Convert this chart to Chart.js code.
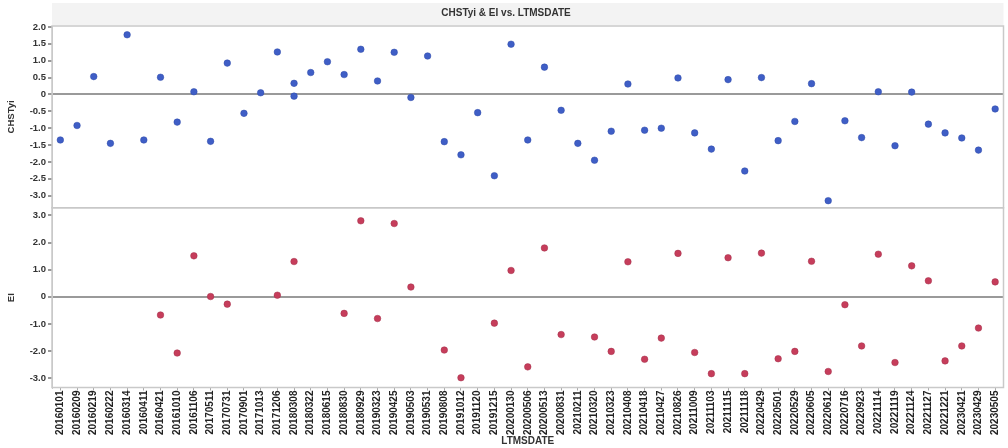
<!DOCTYPE html>
<html>
<head>
<meta charset="utf-8">
<script src="https://cdn.jsdelivr.net/npm/chart.js@4/dist/chart.umd.min.js"></script>
<style>
  html, body { margin: 0; padding: 0; background: #fff; }
  #wrap { width: 1008px; height: 448px; }
</style>
</head>
<body>
<div id="wrap"><canvas id="chart"></canvas></div>
<script>
const dates = [
  '20160101', '20160209', '20160219', '20160222', '20160314', '20160411', '20160421', '20161010',
  '20161106', '20170511', '20170731', '20170901', '20171013', '20171206', '20180308', '20180322',
  '20180615', '20180830', '20180929', '20190323', '20190425', '20190503', '20190531', '20190808',
  '20191012', '20191120', '20191215', '20200130', '20200506', '20200513', '20200831', '20210211',
  '20210320', '20210323', '20210408', '20210418', '20210427', '20210826', '20211009', '20211103',
  '20211115', '20211118', '20220429', '20220501', '20220529', '20220605', '20220612', '20220716',
  '20220923', '20221114', '20221119', '20221124', '20221127', '20221221', '20230421', '20230429',
  '20230505'
];

const chstyi = [
  -1.35, -0.92, 0.53, -1.45, 1.77, -1.35, 0.51, -0.82,
  0.08, -1.39, 0.93, -0.56, 0.05, 1.26, 0.33, 0.65,
  0.97, 0.59, 1.34, 0.40, 1.25, -0.09, 1.14, -1.40,
  -1.79, -0.54, -2.41, 1.49, -1.35, 0.81, -0.47, -1.45,
  -1.95, -1.09, 0.31, -1.06, -1.00, 0.49, -1.14, -1.62,
  0.44, -2.27, 0.50, -1.37, -0.80, 0.32, -3.15, -0.78,
  -1.28, 0.08, -1.52, 0.07, -0.88, -1.14, -1.29, -1.65,
  -0.43
];

// second CHSTyi reading on the same date
const repeatDates = ['20180308'];
const repeatChstyi = [-0.05];

const ei = [
  null, null, null, null, null, null, -0.67, -2.07,
  1.51, 0.01, -0.27, null, null, 0.06, 1.30, null,
  null, -0.61, 2.80, -0.80, 2.70, 0.36, null, -1.96,
  -2.98, null, -0.97, 0.97, -2.58, 1.80, -1.39, null,
  -1.48, -2.01, 1.29, -2.30, -1.52, 1.60, -2.05, -2.83,
  1.44, -2.83, 1.61, -2.28, -2.01, 1.31, -2.75, -0.29,
  -1.81, 1.57, -2.42, 1.14, 0.59, -2.36, -1.81, -1.15,
  0.55
];

const chstyiTicks = [2, 1.5, 1, 0.5, 0, -0.5, -1, -1.5, -2, -2.5, -3];
const eiTicks = [3, 2, 1, 0, -1, -2, -3];

const blue = '#3f5ec6';
const red = '#c63d5b';
const font = 'Liberation Sans, Arial, sans-serif';

const fmt = v => v === 0 ? '0' : v.toFixed(1);
const zeroLine = c => c.tick.value === 0 ? '#9a9a9a' : 'rgba(0,0,0,0)';

const panelFrame = {
  id: 'panelFrame',
  beforeDraw(chart) {
    const { ctx, chartArea } = chart;
    ctx.save();
    ctx.fillStyle = '#f3f3f3';
    ctx.fillRect(chartArea.left, 3, chartArea.right - chartArea.left, chartArea.top - 4);
    ctx.restore();
  },
  beforeDatasetsDraw(chart) {
    const { ctx, chartArea } = chart;
    ctx.save();
    ctx.strokeStyle = '#c9c9c9';
    ctx.lineWidth = 1.5;
    ['yEI', 'yCH'].forEach(id => {
      const s = chart.scales[id];
      ctx.strokeRect(chartArea.left, s.top, chartArea.right - chartArea.left, s.bottom - s.top);
    });
    ctx.restore();
  }
};

const tickFont = { family: font, size: 9.5, weight: 'bold' };

const ctx = document.getElementById('chart');

new Chart(ctx, {
  type: 'line',
  data: {
    labels: dates,
    datasets: [
      {
        label: 'CHSTyi',
        data: chstyi,
        yAxisID: 'yCH',
        showLine: false,
        pointRadius: 3.3,
        pointBackgroundColor: blue,
        pointBorderColor: '#2e4aa8',
        pointBorderWidth: 0.5
      },
      {
        label: 'CHSTyi',
        data: repeatDates.map((d, i) => ({ x: d, y: repeatChstyi[i] })),
        yAxisID: 'yCH',
        showLine: false,
        pointRadius: 3.3,
        pointBackgroundColor: blue,
        pointBorderColor: '#2e4aa8',
        pointBorderWidth: 0.5
      },
      {
        label: 'EI',
        data: ei,
        yAxisID: 'yEI',
        showLine: false,
        pointRadius: 3.3,
        pointBackgroundColor: red,
        pointBorderColor: '#a3304a',
        pointBorderWidth: 0.5
      }
    ]
  },
  options: {
    responsive: true,
    maintainAspectRatio: false,
    animation: false,
    layout: { padding: { left: 6, right: 2, top: 0, bottom: 1 } },
    plugins: {
      legend: { display: false },
      tooltip: { enabled: false },
      title: {
        display: true,
        text: 'CHSTyi & EI vs. LTMSDATE',
        color: '#333',
        font: { family: font, size: 10, weight: 'bold' },
        padding: { top: 7, bottom: 7 }
      }
    },
    scales: {
      x: {
        type: 'category',
        offset: true,
        grid: { drawOnChartArea: false, tickLength: 3, color: '#aaa' },
        border: { color: '#c9c9c9' },
        ticks: {
          autoSkip: false,
          minRotation: 90,
          maxRotation: 90,
          padding: 0,
          color: '#222',
          font: { family: font, size: 10, weight: 'bold' }
        },
        title: {
          display: true,
          text: 'LTMSDATE',
          color: '#333',
          font: { family: font, size: 10, weight: 'bold' },
          padding: { top: 0, bottom: 0 }
        }
      },
      yEI: {
        type: 'linear',
        position: 'left',
        stack: 'panels',
        stackWeight: 177,
        min: -3.34,
        max: 3.28,
        afterBuildTicks: s => { s.ticks = eiTicks.map(v => ({ value: v })); },
        afterFit: s => { s.width = 46; },
        grid: { color: zeroLine, lineWidth: 2, tickLength: 4, tickColor: '#999' },
        border: { color: '#c9c9c9' },
        ticks: { autoSkip: false, callback: fmt, padding: 2, color: '#333', font: tickFont },
        title: {
          display: true,
          text: 'EI',
          color: '#333',
          font: tickFont,
          padding: { top: 0, bottom: 2 }
        }
      },
      yCH: {
        type: 'linear',
        position: 'left',
        stack: 'panels',
        stackWeight: 179,
        min: -3.36,
        max: 2.03,
        afterBuildTicks: s => { s.ticks = chstyiTicks.map(v => ({ value: v })); },
        afterFit: s => { s.width = 46; },
        grid: { color: zeroLine, lineWidth: 2, tickLength: 4, tickColor: '#999' },
        border: { color: '#c9c9c9' },
        ticks: { autoSkip: false, callback: fmt, padding: 2, color: '#333', font: tickFont },
        title: {
          display: true,
          text: 'CHSTyi',
          color: '#333',
          font: tickFont,
          padding: { top: 0, bottom: 2 }
        }
      }
    }
  },
  plugins: [panelFrame]
});
</script>
</body>
</html>
